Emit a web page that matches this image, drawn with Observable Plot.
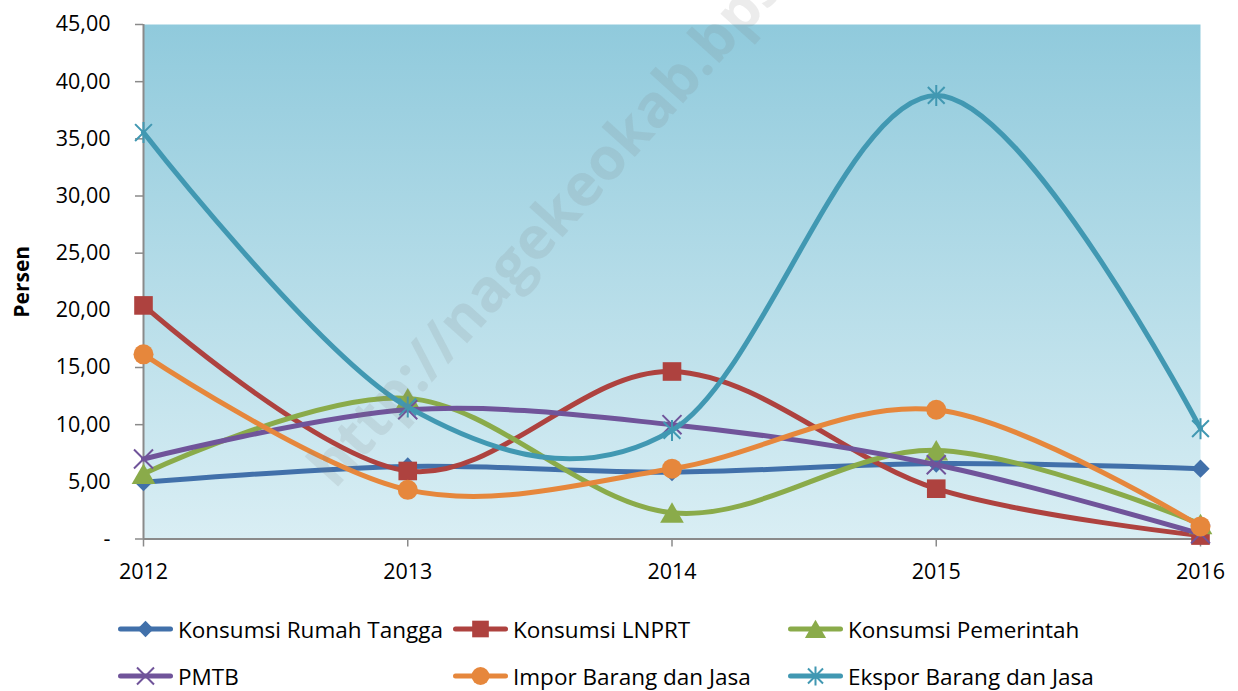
<!DOCTYPE html>
<html>
<head>
<meta charset="utf-8">
<script src="https://cdn.jsdelivr.net/npm/d3@7"></script>
<script src="https://cdn.jsdelivr.net/npm/@observablehq/plot@0.6"></script>
<style>
  html, body { margin: 0; padding: 0; background: #fff; }
  #wrap { position: relative; width: 1238px; height: 691px; overflow: hidden; font-family: "Open Sans", sans-serif; }
  #legend { position: relative; width: 1238px; height: 91px; }
  .item { position: absolute; display: flex; align-items: center; height: 26px; font-size: 22.5px; color: #000; white-space: nowrap; }
  .item svg { display: block; margin-right: 5px; }
  #wm { position: absolute; left: 0; top: 0; pointer-events: none; }
</style>
</head>
<body>
<div id="wrap"></div>
<script>
// ---- data ----
const years = [2012, 2013, 2014, 2015, 2016];
const seriesNames = [
  "Konsumsi Rumah Tangga",
  "Konsumsi LNPRT",
  "Konsumsi Pemerintah",
  "PMTB",
  "Impor Barang dan Jasa",
  "Ekspor Barang dan Jasa"
];
const rumahTangga = [4.97, 6.35, 5.85, 6.60, 6.15];
const lnprt       = [20.43, 5.95, 14.65, 4.40, 0.30];
const pemerintah  = [5.70, 12.30, 2.30, 7.75, 1.30];
const pmtb        = [7.00, 11.30, 10.00, 6.50, 0.45];
const impor       = [16.15, 4.30, 6.15, 11.30, 1.10];
const ekspor      = [35.55, 11.55, 9.50, 38.80, 9.65];
const yTicks = [0, 5, 10, 15, 20, 25, 30, 35, 40, 45];
const yLabel = "Persen";
const watermark = "http://nagekeokab.bps.go.id";

const seriesValues = [rumahTangga, lnprt, pemerintah, pmtb, impor, ekspor];

// custom Excel-like star marker (X plus vertical bar)
const asterisk = {
  draw(ctx, size) {
    const h = Math.sqrt(size / Math.PI);
    const d = h * 0.8;
    ctx.moveTo(-d, -d); ctx.lineTo(d, d);
    ctx.moveTo(d, -d); ctx.lineTo(-d, d);
    ctx.moveTo(0, -h); ctx.lineTo(0, h);
  }
};

const styles = [
  { color: "#4170aa", symbol: d3.symbolDiamond2, r: 8.2, filled: true, dy: 0 },
  { color: "#ae423f", symbol: d3.symbolSquare,   r: 10.5, filled: true, dy: 0 },
  { color: "#8aab4a", symbol: d3.symbolTriangle, r: 8.8, filled: true, dy: 3.3 },
  { color: "#70549a", symbol: d3.symbolTimes,    r: 8.7, filled: false, dy: 0 },
  { color: "#e6873c", symbol: d3.symbolCircle,   r: 10,  filled: true, dy: 0 },
  { color: "#4198b2", symbol: asterisk,          r: 10.5, filled: false, dy: 0 }
];

const rows = [];
seriesValues.forEach((vals, i) =>
  vals.forEach((v, j) => rows.push({ year: years[j], value: v, series: seriesNames[i] }))
);

const fmt = d => d === 0 ? "-" : d.toFixed(2).replace(".", ",");

const seriesMarks = seriesNames.flatMap((name, i) => {
  const d = rows.filter(r => r.series === name);
  const st = styles[i];
  return [
    Plot.line(d, {
      x: "year", y: "value", stroke: st.color, strokeWidth: 5,
      curve: "cardinal", strokeLinecap: "round", strokeLinejoin: "round"
    }),
    Plot.dot(d, {
      x: "year", y: "value", symbol: st.symbol, r: st.r,
      fill: st.filled ? st.color : "none",
      stroke: st.filled ? "none" : st.color,
      strokeWidth: 2, dy: st.dy
    })
  ];
});

const chart = Plot.plot({
  width: 1238,
  height: 600,
  marginLeft: 143,
  marginRight: 38,
  marginTop: 24,
  marginBottom: 61.5,
  style: { fontFamily: "'Open Sans', sans-serif", fontSize: "21.5px", color: "#000", background: "transparent", overflow: "visible" },
  x: { type: "linear", domain: [2012, 2016] },
  y: { domain: [0, 45] },
  marks: [
    Plot.frame({ fill: "url(#bgGrad)", stroke: "none" }),
    Plot.ruleY([0], { stroke: "#8a8a8a", strokeWidth: 2 }),
    Plot.ruleX([2012], { stroke: "#8a8a8a", strokeWidth: 2 }),
    Plot.axisY({ ticks: yTicks, tickFormat: fmt, tickSize: 8, tickPadding: 25, stroke: "#8a8a8a", strokeWidth: 1.5, label: null }),
    Plot.axisX({ ticks: years, tickFormat: d => String(d), tickSize: 8, tickPadding: 17, stroke: "#8a8a8a", strokeWidth: 1.5, label: null }),
    Plot.text([yLabel], { text: d => d, frameAnchor: "left", textAnchor: "middle", dx: -121, rotate: -90, fontWeight: "bold", fontSize: 21, fill: "#000" }),
    ...seriesMarks
  ]
});

// gradient background for the plot area
const svgSel = d3.select(chart);
const defs = svgSel.insert("defs", ":first-child");
const grad = defs.append("linearGradient").attr("id", "bgGrad")
  .attr("x1", 0).attr("y1", 0).attr("x2", 0).attr("y2", 1);
grad.append("stop").attr("offset", "0%").attr("stop-color", "#90cadc");
grad.append("stop").attr("offset", "100%").attr("stop-color", "#d9eef4");
svgSel.selectAll('[aria-label="frame"]').each(function() {
  if (this.tagName.toLowerCase() === "rect") d3.select(this).attr("fill", "url(#bgGrad)");
  d3.select(this).selectAll("rect").attr("fill", "url(#bgGrad)");
});

const wrap = document.getElementById("wrap");
wrap.appendChild(chart);

// legend (HTML below the SVG)
const legend = document.createElement("div");
legend.id = "legend";
const colX = [118, 453, 788];
const rowY = [629, 676];
seriesNames.forEach((name, i) => {
  const st = styles[i];
  const item = document.createElement("div");
  item.className = "item";
  item.style.left = colX[i % 3] + "px";
  item.style.top = (rowY[Math.floor(i / 3)] - 600 - 13) + "px";
  const s = d3.create("svg").attr("width", 55).attr("height", 26);
  s.append("line").attr("x1", 2.5).attr("x2", 52.5).attr("y1", 13).attr("y2", 13)
    .attr("stroke", st.color).attr("stroke-width", 5).attr("stroke-linecap", "round");
  s.append("path")
    .attr("d", d3.symbol(st.symbol, Math.PI * st.r * st.r * 0.8)())
    .attr("transform", `translate(27.5,${13 + st.dy * 0.9})`)
    .attr("fill", st.filled ? st.color : "none")
    .attr("stroke", st.filled ? "none" : st.color)
    .attr("stroke-width", 2);
  item.appendChild(s.node());
  const t = document.createElement("span");
  t.textContent = name;
  item.appendChild(t);
  legend.appendChild(item);
});
wrap.appendChild(legend);

// faint watermark overlay
const wm = d3.create("svg").attr("id", "wm").attr("width", 1238).attr("height", 691);
wm.append("text")
  .attr("transform", "translate(335,490) rotate(-48)")
  .attr("font-family", "'Open Sans', sans-serif")
  .attr("font-weight", "bold")
  .attr("font-size", 59)
  .attr("fill", "#7a7a7a")
  .attr("fill-opacity", 0.14)
  .text(watermark);
wrap.appendChild(wm.node());
</script>
</body>
</html>
